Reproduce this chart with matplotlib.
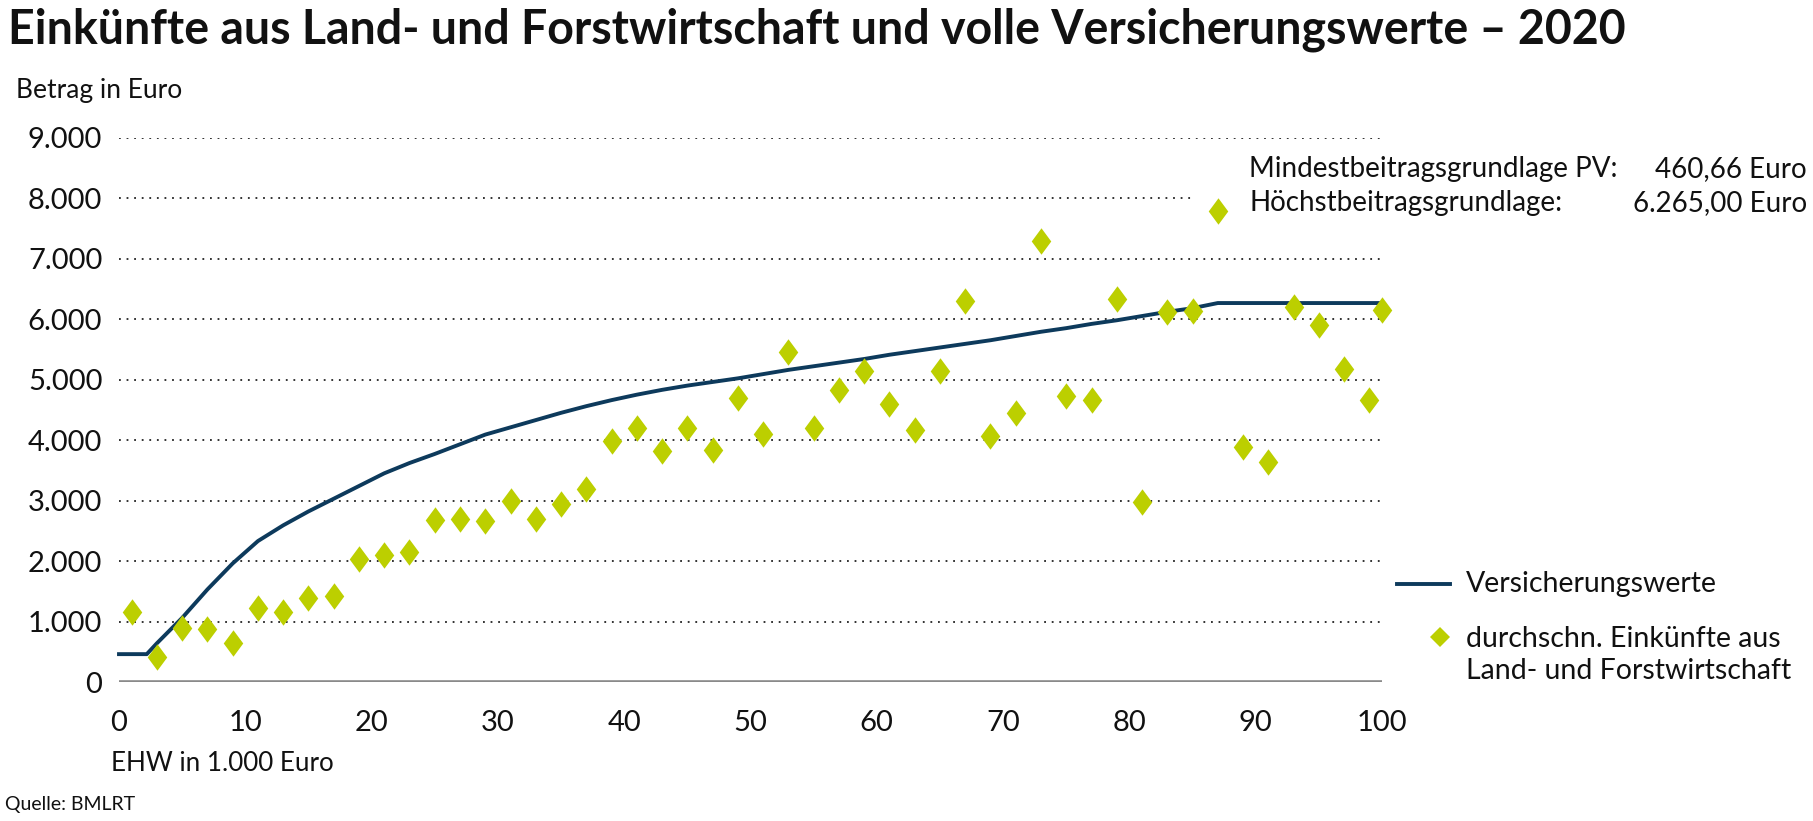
import matplotlib
matplotlib.use("Agg")
import matplotlib.pyplot as plt
from matplotlib.lines import Line2D
from matplotlib.path import Path

plt.rcParams["font.family"] = ["Lato", "DejaVu Sans"]

# ---------------- data ----------------
title = "Einkünfte aus Land- und Forstwirtschaft und volle Versicherungswerte – 2020"
y_label = "Betrag in Euro"
x_label = "EHW in 1.000 Euro"
source = "Quelle: BMLRT"
line_label = "Versicherungswerte"
points_label = "durchschn. Einkünfte aus\nLand- und Forstwirtschaft"

# durchschn. Einkünfte (diamonds)
ehw_points = [1, 3, 5, 7, 9, 11, 13, 15, 17, 19, 21, 23, 25, 27, 29, 31, 33, 35, 37, 39,
              41, 43, 45, 47, 49, 51, 53, 55, 57, 59, 61, 63, 65, 67, 69, 71, 73, 75, 77, 79,
              81, 83, 85, 87, 89, 91, 93, 95, 97, 99, 100]
einkuenfte = [1160, 420, 890, 870, 650, 1230, 1160, 1390, 1420, 2040, 2100, 2155, 2685, 2690, 2655, 3000, 2690, 2935, 3190, 3985,
              4200, 3825, 4205, 3840, 4700, 4095, 5460, 4200, 4830, 5140, 4600, 4165, 5145, 6300, 4070, 4450, 7290, 4730, 4670, 6340,
              2975, 6120, 6140, 7790, 3880, 3630, 6200, 5900, 5180, 4670, 6150]

# Versicherungswerte (line)
ehw_line = [0, 2.2, 3, 5, 7, 9, 11, 13, 15, 17, 19, 21, 23, 25, 27, 29, 31, 33, 35, 37, 39,
            41, 43, 45, 47, 49, 51, 53, 55, 57, 59, 61, 63, 65, 67, 69, 71, 73, 75, 77, 79,
            81, 83, 85, 87, 100]
versicherungswerte = [460.66, 460.66, 640, 1060, 1530, 1960, 2330, 2590, 2820, 3030, 3240, 3450, 3620, 3770, 3930, 4090, 4210, 4330, 4450, 4560, 4660,
                      4750, 4830, 4900, 4960, 5020, 5090, 5160, 5220, 5280, 5340, 5410, 5470, 5530, 5590, 5650, 5720, 5790, 5850, 5920, 5980,
                      6050, 6120, 6180, 6265, 6265]

y_ticks = [0, 1000, 2000, 3000, 4000, 5000, 6000, 7000, 8000, 9000]
y_tick_labels = ["0", "1.000", "2.000", "3.000", "4.000", "5.000", "6.000", "7.000", "8.000", "9.000"]
x_ticks = [0, 10, 20, 30, 40, 50, 60, 70, 80, 90, 100]
x_tick_labels = ["0", "10", "20", "30", "40", "50", "60", "70", "80", "90", "100"]

info_labels = ["Mindestbeitragsgrundlage PV:", "Höchstbeitragsgrundlage:"]
info_values = ["460,66 Euro", "6.265,00 Euro"]

# ---------------- style ----------------
W, H = 1813, 821
navy = "#0d3a5c"
lime = "#bccf00"
txt = "#111111"

fig = plt.figure(figsize=(W / 100, H / 100), dpi=100)
fig.patch.set_facecolor("white")


def fx(px):
    return px / W


def fy(py):
    return 1 - py / H


ax = fig.add_axes([fx(119), fy(682), fx(1382) - fx(119), fy(137.6) - fy(682)])
ax.set_xlim(0, 100)
ax.set_ylim(0, 9000)
for s in ax.spines.values():
    s.set_visible(False)

# grid lines (8.000 line interrupted by the info text)
grid_end = {8000: 85}
for yv in y_ticks[1:]:
    ax.plot([0, grid_end.get(yv, 100)], [yv, yv], color="#222222", lw=1.3,
            linestyle=(0, (1, 3.2)), zorder=1)
ax.axhline(0, color="#8a8a8a", lw=2.6, zorder=1)

ax.set_yticks(y_ticks)
ax.set_yticklabels(y_tick_labels)
ax.set_xticks(x_ticks)
ax.set_xticklabels(x_tick_labels)
ax.tick_params(axis="both", length=0, labelsize=21, colors=txt)
ax.tick_params(axis="y", pad=12)
ax.tick_params(axis="x", pad=20)

# line
ax.plot(ehw_line, versicherungswerte, color=navy, lw=2.8, zorder=3,
        solid_joinstyle="round", clip_on=False)

# diamonds
diamond = Path([(0, 1), (0.74, 0), (0, -1), (-0.74, 0), (0, 1)],
               [Path.MOVETO, Path.LINETO, Path.LINETO, Path.LINETO, Path.CLOSEPOLY])
ax.plot(ehw_points, einkuenfte, linestyle="none", marker=diamond, markersize=19,
        color=lime, markeredgewidth=0, zorder=4, clip_on=False)

# texts
fig.text(fx(8), fy(43), title, fontsize=33.5, fontweight="bold", color=txt, ha="left", va="baseline")
fig.text(fx(16), fy(90), y_label, fontsize=19, color=txt, ha="left", va="center")
fig.text(fx(111), fy(763), x_label, fontsize=18.7, color=txt, ha="left", va="center")
fig.text(fx(5), fy(804), source, fontsize=14, color=txt, ha="left", va="center")

for i, (lab, val) in enumerate(zip(info_labels, info_values)):
    yy = 169 + i * 34.5
    fig.text(fx(1249), fy(yy), lab, fontsize=20, color=txt, ha="left", va="center")
    fig.text(fx(1807), fy(yy), val, fontsize=20, color=txt, ha="right", va="center")

# legend (manual)
fig.add_artist(Line2D([fx(1397), fx(1450)], [fy(584), fy(584)], color=navy, lw=2.8))
fig.text(fx(1466), fy(584), line_label, fontsize=20.5, color=txt, ha="left", va="center")
fig.add_artist(Line2D([fx(1440)], [fy(637)], marker="D", markersize=10.5, color=lime,
                      markeredgewidth=0, linestyle="none"))
fig.text(fx(1466), fy(655), points_label, fontsize=20.5, color=txt, ha="left", va="center",
         linespacing=1.25)

fig.savefig("out.png", dpi=100)
